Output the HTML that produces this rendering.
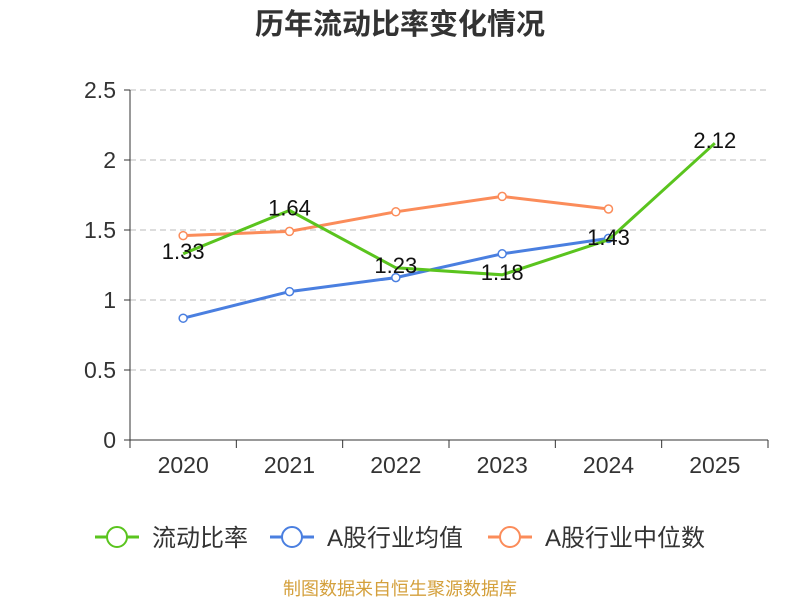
<!DOCTYPE html>
<html><head><meta charset="utf-8">
<style>
body{margin:0;background:#fff;}
svg{display:block;font-family:"Liberation Sans","Noto Sans CJK SC",sans-serif;}
</style></head>
<body>
<svg id="chart" width="800" height="600">
<text x="400" y="34" text-anchor="middle" font-size="29" font-weight="bold" fill="#333">历年流动比率变化情况</text>
<g id="grid"></g><g id="axes"></g><g id="series"></g>
<g id="legend"></g>
<text x="400" y="595" text-anchor="middle" font-size="18" fill="#d4a03c">制图数据来自恒生聚源数据库</text>
</svg>
<script>
const categories=["2020","2021","2022","2023","2024","2025"];
const ratio=[1.33,1.64,1.23,1.18,1.43,2.12];
const industryAvg=[0.87,1.06,1.16,1.33,1.44,null];
const industryMedian=[1.46,1.49,1.63,1.74,1.65,null];
const yTicks=[0,0.5,1,1.5,2,2.5];
const seriesNames=["流动比率","A股行业均值","A股行业中位数"];

const NS="http://www.w3.org/2000/svg";
const L=130,R=768,T=90,B=440,yMax=2.5;
const bw=(R-L)/categories.length;
const xs=i=>L+bw*(i+0.5);
const ys=v=>B-(v/yMax)*(B-T);
function mk(tag,attrs,parent){const e=document.createElementNS(NS,tag);for(const k in attrs)e.setAttribute(k,attrs[k]);parent.appendChild(e);return e;}
const grid=document.getElementById('grid'),axes=document.getElementById('axes'),ser=document.getElementById('series'),leg=document.getElementById('legend');
yTicks.forEach(t=>{
  const y=ys(t);
  if(t>0){const g=mk('line',{x1:L,x2:R,y1:y,y2:y,stroke:'#bbb','stroke-dasharray':'6,4'},grid);
  
  }
  const tk=mk('line',{x1:L-6,x2:L,y1:y,y2:y,stroke:'#333'},axes);
  
  
  const tx=mk('text',{x:L-14,y:y+8,'text-anchor':'end','font-size':23,fill:'#333'},axes);tx.textContent=t;
  
  
});
const ya=mk('line',{x1:L,x2:L,y1:T,y2:B,stroke:'#333'},axes);


const xa=mk('line',{x1:L,x2:R,y1:B,y2:B,stroke:'#333'},axes);


for(let i=0;i<=categories.length;i++){const x=L+bw*i;const t=mk('line',{x1:x,x2:x,y1:B,y2:B+8,stroke:'#333'},axes);

}
categories.forEach((c,i)=>{const t=mk('text',{x:xs(i),y:B+33,'text-anchor':'middle','font-size':23,fill:'#333'},axes);t.textContent=c;

});
function drawLine(data,color,name,markers,labels){
  const pts=[];data.forEach((v,i)=>{if(v!=null)pts.push([xs(i),ys(v),v]);});
  const p=mk('polyline',{points:pts.map(p=>p[0]+','+p[1]).join(' '),fill:'none',stroke:color,'stroke-width':3},ser);
  
  
  pts.forEach(q=>{
    if(markers){const c=mk('circle',{cx:q[0],cy:q[1],r:4,fill:'#fff',stroke:color,'stroke-width':1.5},ser);
    
    }
  });
  if(labels){pts.forEach((q,i)=>{const t=mk('text',{x:q[0],y:q[1]+5,'text-anchor':'middle','font-size':22,fill:'#111'},ser);t.textContent=q[2].toFixed(2);
  
  });}
}
drawLine(industryMedian,'#fb8c5a','industry-median',true,false);
drawLine(industryAvg,'#4a7fe0','industry-average',true,false);
drawLine(ratio,'#5ac41e','current-ratio',false,true);
const lc=['#5ac41e','#4a7fe0','#fb8c5a'];const lx=[95,270,488];
seriesNames.forEach((n,i)=>{
  const g=mk('g',{},leg);
  
  
  mk('line',{x1:lx[i],x2:lx[i]+44,y1:537,y2:537,stroke:lc[i],'stroke-width':3},g);
  mk('circle',{cx:lx[i]+22,cy:537,r:10,fill:'#fff',stroke:lc[i],'stroke-width':2},g);
  const t=mk('text',{x:lx[i]+57,y:546,'font-size':24,fill:'#333'},g);t.textContent=n;
});
</script>
</body></html>
